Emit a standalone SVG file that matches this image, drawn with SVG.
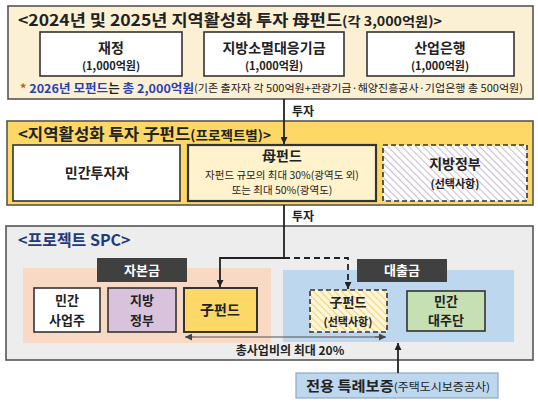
<svg xmlns="http://www.w3.org/2000/svg" width="538" height="403" viewBox="0 0 538 403">
<defs>
<pattern id="hatchPurple" patternUnits="userSpaceOnUse" width="5" height="5" patternTransform="rotate(-45)">
<rect width="5" height="5" fill="#FFFFFF"/>
<line x1="0" y1="0" x2="0" y2="5" stroke="#CDBFD3" stroke-width="2.2"/>
</pattern>
<pattern id="hatchYellow" patternUnits="userSpaceOnUse" width="5" height="5" patternTransform="rotate(-45)">
<rect width="5" height="5" fill="#FFF6DC"/>
<line x1="0" y1="0" x2="0" y2="5" stroke="#F5D374" stroke-width="2.2"/>
</pattern>
<marker id="arr" viewBox="0 0 10 10" refX="10" refY="5" markerWidth="7" markerHeight="7" markerUnits="userSpaceOnUse" orient="auto">
<path d="M0,0 L10,5 L0,10 z" fill="#222"/>
</marker>
<marker id="arrG" viewBox="0 0 10 10" refX="10" refY="5" markerWidth="7" markerHeight="7" markerUnits="userSpaceOnUse" orient="auto">
<path d="M0,0 L10,5 L0,10 z" fill="#444"/>
</marker>
</defs>
<style>
text{font-family:"Noto Sans CJK KR","Noto Sans",sans-serif;fill:#222}
.b{font-weight:bold}
.t{font-size:16px;font-weight:bold}
.n{font-size:14px;font-weight:bold;text-anchor:middle}
.m{font-size:13px;font-weight:bold;text-anchor:middle}
.s{font-size:11px;font-weight:bold;text-anchor:middle}
.box{stroke:#333;stroke-width:1.6}
.outer{stroke:#555;stroke-width:1.6}
.lbl{font-size:12px;font-weight:bold}
.blue{fill:#2B3FB5}
</style>
<rect width="538" height="403" fill="#FFFFFF"/>

<g id="motherFundGroup">
<rect class="outer" x="8" y="6" width="525" height="93" fill="#FCF0D4"/>
<text class="t" x="18" y="26" textLength="424" lengthAdjust="spacingAndGlyphs">&lt;2024년 및 2025년 지역활성화 투자 母펀드<tspan font-size="13">(각 3,000억원)&gt;</tspan></text>
<g id="finance">
<rect class="box" x="40" y="32" width="142" height="44" fill="#FFFFFF"/>
<text class="n" x="111" y="53">재정</text>
<text class="s" x="111" y="70">(1,000억원)</text>
</g>
<g id="localFund">
<rect class="box" x="204" y="32" width="140" height="44" fill="#FFFFFF"/>
<text class="n" x="274" y="53">지방소멸대응기금</text>
<text class="s" x="274" y="70">(1,000억원)</text>
</g>
<g id="kdb">
<rect class="box" x="367" y="32" width="147" height="44" fill="#FFFFFF"/>
<text class="n" x="440" y="53">산업은행</text>
<text class="s" x="440" y="70">(1,000억원)</text>
</g>
<text x="20" y="93" font-size="12" font-weight="bold" textLength="174" lengthAdjust="spacingAndGlyphs"><tspan fill="#C55A11">* </tspan><tspan class="blue">2026년 모펀드</tspan>는 <tspan class="blue">총 2,000억원</tspan></text>
<text x="194" y="92" font-size="10.5" textLength="329" lengthAdjust="spacingAndGlyphs">(기존 출자자 각 500억원+관광기금·해양진흥공사·기업은행 총 500억원)</text>
</g>

<g id="subFundGroup">
<rect class="outer" x="7" y="121" width="526" height="84" fill="#FDD866"/>
<text class="t" x="18" y="140" textLength="253" lengthAdjust="spacingAndGlyphs">&lt;지역활성화 투자 子펀드<tspan font-size="13">(프로젝트별)&gt;</tspan></text>
<g id="privateInvestor">
<rect class="box" x="13" y="145" width="167" height="56" fill="#FFFFFF"/>
<text class="n" x="97" y="178">민간투자자</text>
</g>
<g id="motherFund">
<rect x="188" y="145" width="188" height="56" fill="#FFF2CC" stroke="#333" stroke-width="2.2"/>
<text class="n" x="282" y="161">母펀드</text>
<text x="282" y="179" font-size="10.5" text-anchor="middle" fill="#444">자펀드 규모의  최대 30%(광역도 외)</text>
<text x="282" y="194" font-size="10.5" text-anchor="middle" fill="#444">또는 최대 50%(광역도)</text>
</g>
<g id="localGov">
<rect x="383" y="145" width="144" height="56" fill="url(#hatchPurple)" stroke="#333" stroke-width="1.6" stroke-dasharray="5,3"/>
<text class="n" x="455" y="169">지방정부</text>
<text class="s" x="455" y="188">(선택사항)</text>
</g>
</g>

<g id="spcGroup">
<rect class="outer" x="6" y="226" width="527" height="134" fill="#EDEDED"/>
<text class="t" x="18" y="246" style="fill:#1F3A7A">&lt;프로젝트 SPC&gt;</text>
<rect x="23" y="268" width="248" height="75" fill="#F8D9C4"/>
<rect x="283" y="270" width="231" height="72" fill="#BDD7EE"/>
<g id="equityLabel">
<rect x="97" y="258" width="90" height="24" fill="#404040"/>
<text x="142" y="275" font-size="13" font-weight="bold" text-anchor="middle" style="fill:#FFFFFF">자본금</text>
</g>
<g id="loanLabel">
<rect x="357" y="259" width="90" height="23" fill="#404040"/>
<text x="402" y="275" font-size="13" font-weight="bold" text-anchor="middle" style="fill:#FFFFFF">대출금</text>
</g>
<g id="privateSponsor">
<rect class="box" x="34" y="288" width="66" height="44" fill="#FFFFFF"/>
<text class="m" x="67" y="305">민간</text>
<text class="m" x="67" y="325">사업주</text>
</g>
<g id="spcLocalGov">
<rect class="box" x="108" y="288" width="68" height="44" fill="#D9C2DC"/>
<text class="m" x="142" y="305">지방</text>
<text class="m" x="142" y="325">정부</text>
</g>
<g id="subFund">
<rect x="184" y="288" width="73" height="44" fill="#FDD866" stroke="#333" stroke-width="2"/>
<text class="n" x="220" y="315">子펀드</text>
</g>
<g id="subFundOptional">
<rect x="310" y="290" width="77" height="42" fill="url(#hatchYellow)" stroke="#333" stroke-width="1.6" stroke-dasharray="5,3"/>
<text class="m" x="348" y="307">子펀드</text>
<text class="s" x="348" y="326">(선택사항)</text>
</g>
<g id="privateLenders">
<rect class="box" x="407" y="291" width="78" height="40" fill="#C6E0B4"/>
<text class="m" x="446" y="306">민간</text>
<text class="m" x="446" y="325">대주단</text>
</g>
<text class="lbl" x="290" y="355" text-anchor="middle">총사업비의 최대 20%</text>
</g>

<g id="guarantee">
<rect x="296" y="373" width="202" height="25" fill="#BDD7EE" stroke="#8FA9C4" stroke-width="1.2"/>
<text x="306" y="391" font-size="14" font-weight="bold" textLength="184" lengthAdjust="spacingAndGlyphs">전용 특례보증<tspan font-size="11" font-weight="normal">(주택도시보증공사)</tspan></text>
</g>

<g id="connectors" fill="none">
<line x1="284" y1="99" x2="284" y2="144" stroke="#222" stroke-width="1.8" marker-end="url(#arr)"/>
<text class="lbl" x="292" y="116">투자</text>
<polyline points="284,205 284,258 220,258 220,287" stroke="#222" stroke-width="1.8" marker-end="url(#arr)"/>
<polyline points="284,258 348,258 348,289" stroke="#222" stroke-width="1.8" stroke-dasharray="6,4" marker-end="url(#arr)"/>
<text class="lbl" x="292" y="221">투자</text>
<line x1="195" y1="337" x2="385" y2="337" stroke="#555" stroke-width="1.2"/>
<line x1="195" y1="337" x2="185" y2="337" stroke="#555" stroke-width="1.2" marker-end="url(#arrG)"/>
<line x1="375" y1="337" x2="386" y2="337" stroke="#555" stroke-width="1.2" marker-end="url(#arrG)"/>
<line x1="398" y1="373" x2="398" y2="343" stroke="#222" stroke-width="1.8" marker-end="url(#arr)"/>
</g>
</svg>
